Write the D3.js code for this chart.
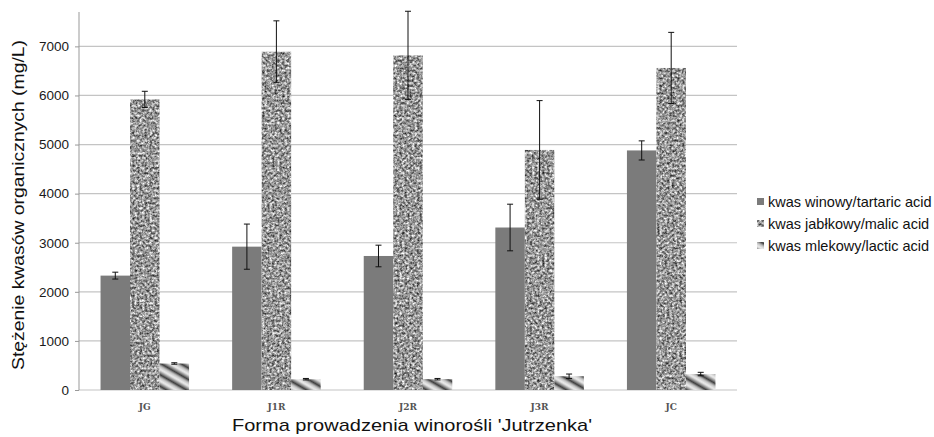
<!DOCTYPE html>
<html>
<head>
<meta charset="utf-8">
<script src="https://cdn.jsdelivr.net/npm/d3@7"></script>
<style>
  html, body { margin: 0; padding: 0; background: #fff; }
  svg { display: block; font-family: "Liberation Sans", Arial, sans-serif; }
</style>
</head>
<body>
<svg id="chart" width="934" height="437"></svg>
<script>
// Training forms of the 'Jutrzenka' grapevine
const categories = ["JG", "J1R", "J2R", "J3R", "JC"];
const seriesNames = ["kwas winowy/tartaric acid", "kwas jabłkowy/malic acid", "kwas mlekowy/lactic acid"];
// Mean concentrations (mg/L)
const tartaric = [2330, 2920, 2730, 3310, 4880];
const malic    = [5920, 6890, 6815, 4890, 6560];
const lactic   = [540, 220, 220, 280, 325];
// Standard deviations (mg/L)
const tartaricErr = [70, 460, 220, 475, 195];
const malicErr    = [165, 630, 900, 1005, 725];
const lacticErr   = [15, 15, 15, 45, 35];
const yTicks = [0, 1000, 2000, 3000, 4000, 5000, 6000, 7000];

const svg = d3.select("#chart");
const margin = { left: 79, right: 197, top: 12, bottom: 47 };
const W = 934, H = 437;

const x = d3.scaleBand().domain(categories).range([margin.left, W - margin.right]).paddingInner(0).paddingOuter(0);
const xs = d3.scaleBand().domain(d3.range(3)).range([0, x.bandwidth()]).paddingInner(0).paddingOuter(0.73);
const y = d3.scaleLinear().domain([0, 7700]).range([H - margin.bottom, margin.top]);

// ---- fills ----
const defs = svg.append("defs");
// speckled granite fill for malic acid
const f = defs.append("filter").attr("id", "granite")
  .attr("x", 0).attr("y", 0).attr("width", 1).attr("height", 1)
  .attr("color-interpolation-filters", "sRGB");
f.append("feTurbulence").attr("type", "fractalNoise").attr("baseFrequency", 0.4)
  .attr("numOctaves", 3).attr("seed", 11).attr("result", "noise");
f.append("feColorMatrix").attr("in", "noise").attr("type", "matrix")
  .attr("values", "1.25 0 0 0 -0.03  1.25 0 0 0 -0.03  1.25 0 0 0 -0.03  0 0 0 0 1")
  .attr("result", "grey");
f.append("feGaussianBlur").attr("in", "grey").attr("stdDeviation", 0.35).attr("result", "soft");
f.append("feComposite").attr("in", "soft").attr("in2", "SourceAlpha").attr("operator", "in");

// shaded diagonal stripes for lactic acid
const grad = defs.append("linearGradient").attr("id", "stripeGrad")
  .attr("x1", 0).attr("y1", 0).attr("x2", 1).attr("y2", 0);
[["0%", "#f0f0f0"], ["30%", "#c0c0c0"], ["55%", "#404040"], ["78%", "#a0a0a0"], ["100%", "#f0f0f0"]]
  .forEach(([o, c]) => grad.append("stop").attr("offset", o).attr("stop-color", c));
const pat = defs.append("pattern").attr("id", "stripes").attr("patternUnits", "userSpaceOnUse")
  .attr("width", 10).attr("height", 10).attr("patternTransform", "rotate(-60)");
pat.append("rect").attr("width", 10).attr("height", 10).attr("fill", "url(#stripeGrad)");

const fills = ["#7b7b7b", "#9c9c9c", "url(#stripes)"];

// ---- gridlines ----
svg.append("g").selectAll("line").data(yTicks).join("line")
  .attr("x1", margin.left).attr("x2", W - margin.right)
  .attr("y1", d => y(d)).attr("y2", d => y(d))
  .attr("stroke", "#c4c4c4").attr("stroke-width", 1.2);

// ---- bars ----
const values = [tartaric, malic, lactic];
const errs = [tartaricErr, malicErr, lacticErr];
const rows = [];
categories.forEach((c, i) => values.forEach((s, k) => rows.push({ c, k, v: s[i], e: errs[k][i] })));

svg.append("g").selectAll("rect").data(rows).join("rect")
  .attr("x", d => x(d.c) + xs(d.k))
  .attr("width", xs.bandwidth())
  .attr("y", d => y(d.v))
  .attr("height", d => y(0) - y(d.v))
  .attr("fill", d => fills[d.k])
  .attr("filter", d => d.k === 1 ? "url(#granite)" : null);

// ---- error bars ----
const eb = svg.append("g").attr("stroke", "#111").attr("stroke-width", 1);
rows.forEach(d => {
  const cx = x(d.c) + xs(d.k) + xs.bandwidth() / 2;
  const y1 = y(d.v + d.e), y2 = y(d.v - d.e);
  eb.append("line").attr("x1", cx).attr("x2", cx).attr("y1", y1).attr("y2", y2);
  eb.append("line").attr("x1", cx - 3).attr("x2", cx + 3).attr("y1", y1).attr("y2", y1);
  eb.append("line").attr("x1", cx - 3).attr("x2", cx + 3).attr("y1", y2).attr("y2", y2);
});

// ---- axes ----
const yAxis = svg.append("g").attr("transform", `translate(${margin.left},0)`)
  .call(d3.axisLeft(y).tickValues(yTicks).tickSize(4).tickPadding(6).tickFormat(d3.format("d")));
yAxis.select(".domain").attr("d", `M0,${y(0)}V${margin.top}`).attr("stroke", "#999");
yAxis.selectAll(".tick line").attr("stroke", "#999");
yAxis.selectAll("text").attr("font-size", 13.5).attr("fill", "#1a1a1a")
  .attr("font-family", "'Liberation Sans', Arial, sans-serif");

const xAxis = svg.append("g").attr("transform", `translate(0,${y(0)})`)
  .call(d3.axisBottom(x).tickSize(0).tickPadding(14));
xAxis.select(".domain").remove();
xAxis.selectAll("text").attr("font-size", 9).attr("font-weight", "bold").attr("fill", "#555")
  .attr("font-family", "'DejaVu Serif', serif");

// ---- axis titles ----
svg.append("text").attr("x", 232).attr("y", 431)
  .attr("font-size", 17).attr("fill", "#111")
  .attr("textLength", 360).attr("lengthAdjust", "spacingAndGlyphs")
  .text("Forma prowadzenia winorośli 'Jutrzenka'");
svg.append("text").attr("transform", "translate(24,370) rotate(-90)")
  .attr("font-size", 17).attr("fill", "#111")
  .attr("textLength", 330).attr("lengthAdjust", "spacingAndGlyphs")
  .text("Stężenie kwasów organicznych (mg/L)");

// ---- legend ----
const lg = svg.append("g").attr("transform", "translate(757,202)");
seriesNames.forEach((n, k) => {
  const g = lg.append("g").attr("transform", `translate(0,${k * 22})`);
  g.append("rect").attr("x", 0).attr("y", -4).attr("width", 7).attr("height", 7)
    .attr("fill", fills[k]).attr("filter", k === 1 ? "url(#granite)" : null);
  g.append("text").attr("x", 11).attr("y", 0).attr("dy", "0.35em")
    .attr("font-size", 14.5).attr("fill", "#111").text(n);
});
</script>
</body>
</html>
